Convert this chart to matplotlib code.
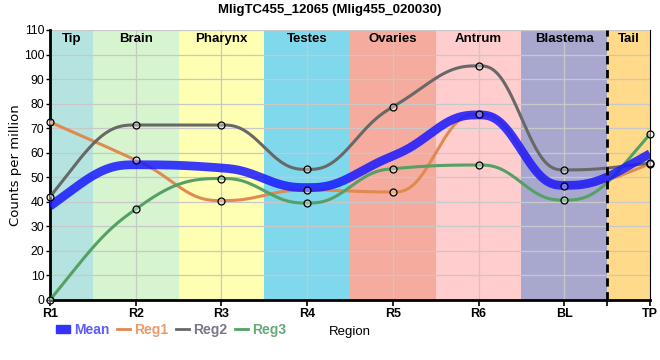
import matplotlib
matplotlib.use("Agg")
import matplotlib.pyplot as plt
from matplotlib.lines import Line2D
from matplotlib.patches import Patch
import numpy as np

# data
positions = ["R1", "R2", "R3", "R4", "R5", "R6", "BL", "TP"]
reg1 = [72.5, 57.0, 40.5, 44.8, 44.0, 75.8, 46.4, 55.5]
reg2 = [42.0, 71.3, 71.3, 53.2, 78.7, 95.4, 53.0, 55.8]
reg3 = [0.0, 37.0, 49.5, 39.5, 53.5, 55.0, 40.7, 67.6]
mean = [38.2, 55.1, 53.8, 45.8, 58.7, 75.4, 46.7, 59.6]

regions = ["Tip", "Brain", "Pharynx", "Testes", "Ovaries", "Antrum", "Blastema", "Tail"]
region_edges = [0, 0.5, 1.5, 2.5, 3.5, 4.5, 5.5, 6.5, 7]
region_colors = ["#b5e3df", "#d6f5cf", "#ffffb4", "#80d8ec", "#f5ab9e",
                 "#ffcdcd", "#a8a8cf", "#ffda8a"]

FONT = ["Liberation Sans", "DejaVu Sans"]


def smooth(y, n=120):
    # monotone slopes (Steffen), joined with quintic hermite pieces
    y = np.asarray(y, float)
    s = np.diff(y)
    m = np.zeros(len(y))
    for i in range(1, len(y) - 1):
        p = (s[i - 1] + s[i]) / 2
        m[i] = (np.sign(s[i - 1]) + np.sign(s[i])) * min(abs(s[i - 1]), abs(s[i]), 0.5 * abs(p))
    m[0] = (3 * s[0] - m[1]) / 2
    m[-1] = (3 * s[-1] - m[-2]) / 2
    t = np.linspace(0, 1, n)
    h0 = 1 - 10 * t**3 + 15 * t**4 - 6 * t**5
    h1 = t - 6 * t**3 + 8 * t**4 - 3 * t**5
    h3 = -4 * t**3 + 7 * t**4 - 3 * t**5
    h5 = 10 * t**3 - 15 * t**4 + 6 * t**5
    xs, ys = [], []
    for i in range(len(y) - 1):
        xs.append(i + t)
        ys.append(y[i] * h0 + m[i] * h1 + m[i + 1] * h3 + y[i + 1] * h5)
    return np.concatenate(xs), np.concatenate(ys)


fig = plt.figure(figsize=(6.6, 3.6), dpi=100)
ax = fig.add_axes([50 / 660, 60 / 360, 600 / 660, 270 / 360])

x = np.arange(len(positions))

# region bands
for i, name in enumerate(regions):
    ax.axvspan(region_edges[i], region_edges[i + 1], color=region_colors[i], lw=0, zorder=0)
    ax.text((region_edges[i] + region_edges[i + 1]) / 2, 108.6, name, ha="center", va="top",
            fontsize=9.5, fontweight="bold", family=FONT, zorder=5)
ax.axvline(6.5, color="black", lw=2, ls=(0, (3, 2)), zorder=4)

ax.grid(True, color="#c8c8c8", lw=0.9, zorder=1)
ax.set_axisbelow(True)

series = [
    (reg1, "#e08a50"),
    (reg2, "#686868"),
    (reg3, "#55a065"),
]
for vals, col in series:
    ax.plot(*smooth(vals), color=col, lw=2.2, zorder=3, solid_capstyle="butt")
ax.plot(*smooth(mean), color="#1a1aff", lw=6.3, alpha=0.86, zorder=3.5,
        solid_capstyle="butt")

for vals, col in series:
    ax.plot(x, vals, ls="none", marker="o", ms=5, mfc=(1, 1, 1, 0.35), mec="black",
            mew=0.9, zorder=6, clip_on=False)

ax.set_xlim(0, 7)
ax.set_ylim(0, 110)
ax.set_yticks(range(0, 111, 10))
ax.set_xticks(x)
ax.set_xticklabels(positions, fontsize=9, fontweight="bold", family=FONT)
ax.set_xticks([6.5], minor=True)
ax.tick_params(axis="x", which="both", length=4, width=1.2, pad=2)
ax.tick_params(axis="y", length=3, width=1, labelsize=8.8, pad=1)
for lab in ax.get_yticklabels():
    lab.set_family(FONT)

ax.spines["top"].set_visible(False)
ax.spines["left"].set_linewidth(2)
ax.spines["bottom"].set_linewidth(2)
ax.spines["right"].set_linewidth(0.8)

ax.set_ylabel("Counts per million", fontsize=9.5, family="DejaVu Sans")
ax.yaxis.set_label_coords(-28 / 600, 0.5)
ax.set_xlabel("Region", fontsize=9.5, family=FONT, labelpad=4)
fig.suptitle("MligTC455_12065 (Mlig455_020030)", x=330 / 660, y=0.99,
             fontsize=9.5, fontweight="bold", family=FONT)

handles = [
    Patch(color="#3333ff"),
    Line2D([], [], color="#e08a50", lw=2),
    Line2D([], [], color="#686868", lw=2),
    Line2D([], [], color="#55a065", lw=2),
]
leg = fig.legend(handles, ["Mean", "Reg1", "Reg2", "Reg3"], loc="center left",
                 bbox_to_anchor=(48 / 660, 1 - 330 / 360), ncol=4, frameon=False,
                 handlelength=0.95, handleheight=0.55, handletextpad=0.3,
                 columnspacing=0.55, borderpad=0.1,
                 prop={"family": FONT, "size": 10, "weight": "bold"})
text_colors = ["#5c5cff", "#e89a68", "#777788", "#66aa77"]
for t, c in zip(leg.get_texts(), text_colors):
    t.set_color(c)

fig.savefig("out.png", dpi=100)
